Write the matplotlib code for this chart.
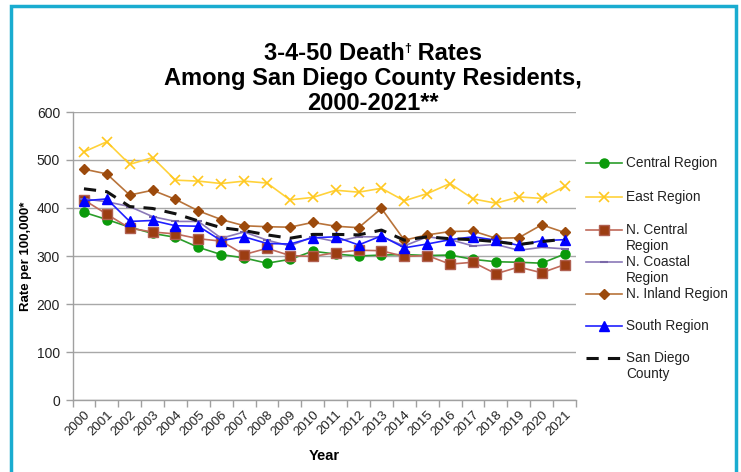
import matplotlib
matplotlib.use("Agg")
import matplotlib.pyplot as plt
from matplotlib.lines import Line2D
from matplotlib.patches import Rectangle
import numpy as np

plt.rcParams['font.family'] = ['Liberation Sans', 'DejaVu Sans']

years = [str(y) for y in range(2000, 2022)]

central = [391, 376, 360, 347, 339, 318, 303, 296, 285, 293, 310, 304, 300, 302,
           303, 301, 302, 293, 288, 287, 285, 304]
east = [517, 538, 491, 505, 458, 456, 451, 456, 452, 417, 422, 437, 433, 441,
        415, 430, 451, 419, 410, 423, 420, 445]
n_central = [417, 387, 358, 350, 346, 336, 331, 303, 316, 301, 299, 307, 312, 311,
             299, 301, 283, 287, 263, 277, 265, 282]
n_coastal = [419, 413, 403, 382, 372, 372, 337, 350, 333, 321, 340, 330, 340, 340,
             321, 340, 334, 321, 324, 312, 318, 315]
n_inland = [481, 471, 427, 437, 418, 394, 376, 363, 361, 360, 370, 362, 359, 399,
            333, 344, 351, 352, 337, 338, 365, 349]
south = [415, 419, 372, 374, 363, 362, 332, 340, 326, 325, 338, 340, 323, 342,
         317, 325, 334, 340, 333, 322, 332, 334]
san_diego = [440, 434, 403, 399, 388, 373, 359, 353, 344, 337, 345, 345, 344, 354,
             333, 340, 336, 334, 330, 324, 330, 335]

labels = [["Central Region"], ["East Region"], ["N. Central", "Region"],
          ["N. Coastal", "Region"], ["N. Inland Region"], ["South Region"],
          ["San Diego", "County"]]

W, H = 741, 472
fig = plt.figure(figsize=(W / 100, H / 100), dpi=100)

def fx(px):
    return px / W

def fy(py):
    return 1 - py / H

ax = fig.add_axes([fx(72.5), fy(400), fx(576) - fx(72.5), fy(112) - fy(400)])

x = np.arange(len(years))

styles = [
    dict(color='#2a9d2a', marker='o', markersize=6.5, markerfacecolor='#0a9a0a', markeredgecolor='#0a9a0a', lw=1.2, ls='-'),
    dict(color='#ffd23a', marker='x', markersize=7, markeredgecolor='#ffc820', markeredgewidth=1.2, lw=1.2, ls='-'),
    dict(color='#c06a5a', marker='s', markersize=6.5, markerfacecolor='#9c3d12', markeredgecolor='#b06050', lw=1.2, ls='-'),
    dict(color='#8a78b8', marker='_', markersize=6, markeredgecolor='#7a68a8', markeredgewidth=1.5, lw=1.2, ls='-'),
    dict(color='#b8733a', marker='D', markersize=5.5, markerfacecolor='#9c4a0c', markeredgecolor='#9c4a0c', lw=1.2, ls='-'),
    dict(color='#2020ff', marker='^', markersize=7, markerfacecolor='#0000ff', markeredgecolor='#0000ff', lw=1.2, ls='-'),
    dict(color='#111111', marker=None, lw=2.2, ls=(0, (4, 3))),
]
series = [central, east, n_central, n_coastal, n_inland, south, san_diego]

for s, st in zip(series, styles):
    ax.plot(x, s, clip_on=False, zorder=3, **st)

ax.set_xlim(-0.5, len(years) - 0.5)
ax.set_ylim(0, 600)
ax.set_yticks(range(0, 601, 100))
ax.yaxis.grid(True, color='#a8a8a8', lw=1)
ax.set_axisbelow(True)
for sp in ['top', 'right']:
    ax.spines[sp].set_visible(False)
for sp in ['left', 'bottom']:
    ax.spines[sp].set_color('#a0a0a0')
    ax.spines[sp].set_linewidth(1)

ax.set_xticks(x)
ax.set_xticklabels(years, rotation=45, ha='right', va='top', rotation_mode='anchor', fontsize=9.5, color='#222222')
ax.tick_params(axis='x', which='major', length=0, pad=6)
ax.set_xticks(np.arange(-0.5, len(years), 1), minor=True)
ax.tick_params(axis='x', which='minor', length=5, color='#a0a0a0', width=1)
ax.tick_params(axis='y', length=5, color='#a0a0a0', width=1, labelsize=10, labelcolor='#222222', pad=4)

ax.set_ylabel('Rate per 100,000*', fontsize=9.5, fontweight='bold', labelpad=3)
ax.set_xlabel('Year', fontsize=10.5, fontweight='bold', labelpad=8)

# title (line 1 with a small raised dagger)
TS = 17
renderer = fig.canvas.get_renderer()
parts = [("3-4-50 Death", TS, 0), ("\u2020", 9, -5), (" Rates", TS, 0)]
objs = []
for txt, size, dy in parts:
    objs.append(fig.text(0, fy(54 + dy), txt, ha='left', va='center', fontsize=size, fontweight='bold'))
widths = [o.get_window_extent(renderer=renderer).width for o in objs]
x0 = 373 - sum(widths) / 2
for o, w in zip(objs, widths):
    o.set_x(fx(x0))
    x0 += w
for t, ty in zip(["Among San Diego County Residents,", "2000-2021**"], [79, 103]):
    fig.text(fx(373), fy(ty), t, ha='center', va='center', fontsize=TS, fontweight='bold')

# legend
leg_y = [163, 197, 230, 262, 294, 326, 358]
for lab, st, ly in zip(labels, styles, leg_y):
    kw = {k: v for k, v in st.items() if k not in ('ls', 'lw', 'marker')}
    ln = Line2D([fx(586), fx(622)], [fy(ly), fy(ly)], transform=fig.transFigure,
                linestyle=st['ls'], linewidth=st['lw'], color=st['color'])
    fig.add_artist(ln)
    if st.get('marker'):
        mkw = {k: v for k, v in kw.items() if k != 'color'}
        mk = Line2D([fx(604)], [fy(ly)], transform=fig.transFigure, linestyle='none',
                    marker=st['marker'], color=st['color'], **mkw)
        fig.add_artist(mk)
    for i, part in enumerate(lab):
        fig.text(fx(626), fy(ly + 16 * i), part, ha='left', va='center', fontsize=9.8, color='#222222')

# frame
fig.add_artist(Rectangle((fx(11), fy(480)), fx(736) - fx(11), fy(6) - fy(480),
                         transform=fig.transFigure, fill=False, edgecolor='#19acd0', lw=2.5, clip_on=False))
fig.text(fx(37), fy(-8), 'g', ha='center', va='center', fontsize=14, fontweight='bold')

fig.savefig('out.png', dpi=100)
